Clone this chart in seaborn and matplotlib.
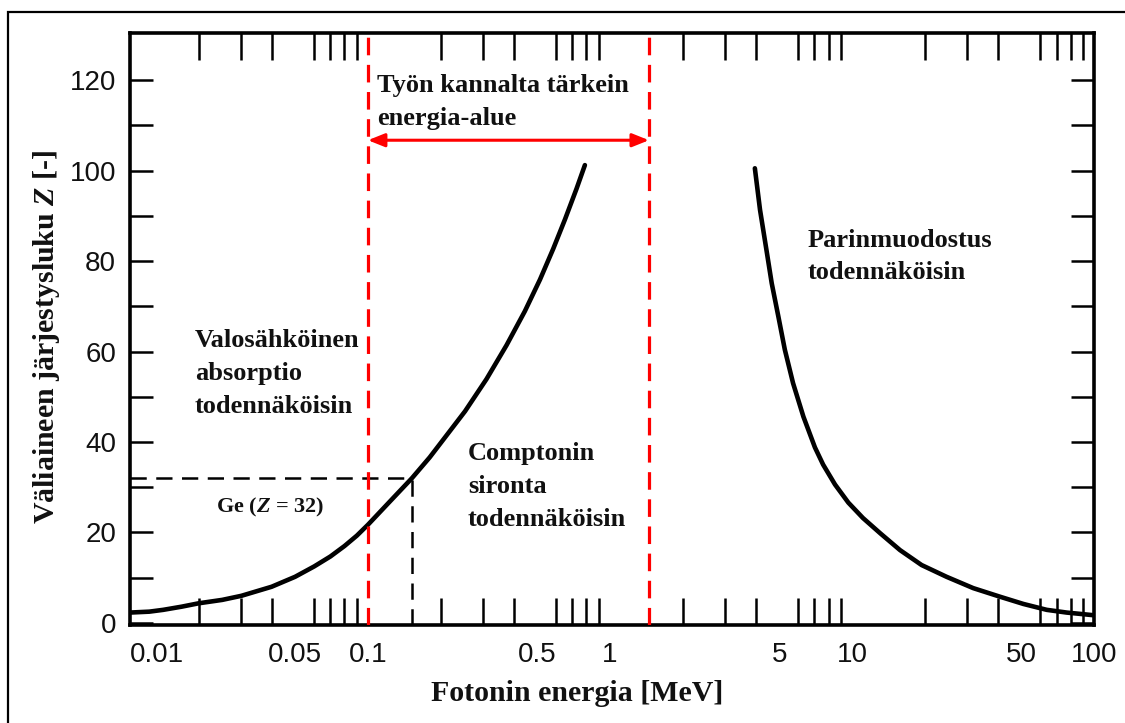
import matplotlib
matplotlib.use("Agg")
import matplotlib.pyplot as plt
import seaborn as sns
import pandas as pd
from matplotlib.patches import Rectangle, ArrowStyle
from matplotlib.ticker import FixedLocator, FixedFormatter, NullFormatter

# ---------------- data ----------------
# Boundary photoelectric absorption / Compton scattering
pe_energy = [0.0104, 0.0125, 0.01426, 0.017, 0.02, 0.025, 0.03, 0.04, 0.05, 0.06,
             0.07, 0.08, 0.09, 0.1, 0.123, 0.152, 0.18, 0.252, 0.309, 0.374,
             0.445, 0.514, 0.583, 0.652, 0.728, 0.788]
pe_z = [2.3, 2.5, 2.9, 3.6, 4.35, 5.1, 6.0, 8.0, 10.2, 12.5,
        14.7, 17.0, 19.3, 21.7, 26.8, 32.0, 36.6, 46.8, 53.9, 61.4,
        68.9, 75.9, 82.7, 89.2, 96.0, 101.2]

# Boundary Compton scattering / pair production
pp_energy = [3.97, 4.17, 4.44, 4.66, 4.97, 5.28, 5.71, 6.30, 7.03, 7.60, 8.51, 9.66,
             11.1, 13.1, 15.8, 19.4, 24.6, 31.7, 40.9, 51.1, 63.8, 77.1, 91.8, 100.0]
pp_z = [100.5, 91.3, 82.2, 75.1, 67.6, 60.4, 53.0, 45.6, 38.8, 35.0, 30.6, 26.6,
        23.2, 19.8, 16.1, 12.8, 10.2, 7.7, 5.8, 4.2, 2.9, 2.3, 1.9, 1.7]

# Important energy range and germanium marker
range_limits = [0.1, 1.45]
ge_energy = 0.152
ge_z = 32

x_tick_values = [0.0104, 0.05, 0.1, 0.5, 1, 5, 10, 50, 100]
x_tick_labels = ["0.01", "0.05", "0.1", "0.5", "1", "5", "10", "50", "100"]
y_tick_values = [0, 20, 40, 60, 80, 100, 120]
y_minor_values = [10, 30, 50, 70, 90, 110]

# ---------------- style ----------------
sns.set_theme(style="ticks")
plt.rcParams["font.family"] = ["Liberation Sans", "DejaVu Sans"]
plt.rcParams["mathtext.fontset"] = "custom"
plt.rcParams["mathtext.it"] = "Liberation Serif:bold:italic"
plt.rcParams["mathtext.rm"] = "Liberation Serif:bold"
plt.rcParams["mathtext.bf"] = "Liberation Serif:bold"

SERIF = dict(family="Liberation Serif", weight="bold", color="#111111")

fig = plt.figure(figsize=(11.25, 7.23), dpi=100)
ax = fig.add_axes([130 / 1125, 1 - 625 / 723, (1094 - 130) / 1125, (625 - 33) / 723])

pe_df = pd.DataFrame({"E": pe_energy, "Z": pe_z})
pp_df = pd.DataFrame({"E": pp_energy, "Z": pp_z})
sns.lineplot(data=pe_df, x="E", y="Z", ax=ax, color="black", lw=3.3,
             estimator=None, sort=False, solid_capstyle="round", solid_joinstyle="round")
sns.lineplot(data=pp_df, x="E", y="Z", ax=ax, color="black", lw=3.3,
             estimator=None, sort=False, solid_capstyle="round", solid_joinstyle="round")

ax.set_xscale("log")
ax.set_xlim(0.0104, 100)
ax.set_ylim(-0.45, 130.4)

# red dashed limits of the important range
for xv in range_limits:
    ax.axvline(xv, color="#ff0000", lw=2.3, ls=(0, (5.5, 3.0)), zorder=3)

# double arrow
ax.annotate("", xy=(range_limits[0], 106.7), xytext=(range_limits[1], 106.7),
            arrowprops=dict(arrowstyle=ArrowStyle("<|-|>", head_length=0.5, head_width=0.2),
                            color="#ff0000", lw=2.2, mutation_scale=20,
                            shrinkA=0, shrinkB=0), zorder=4)

# Ge marker (black dashed)
ax.plot([ax.get_xlim()[0], ge_energy], [ge_z, ge_z], color="black", lw=1.8,
        ls=(0, (6.5, 3.8)), zorder=2)
ax.plot([ge_energy, ge_energy], [ax.get_ylim()[0], ge_z], color="black", lw=1.8,
        ls=(0, (6.5, 3.8)), zorder=2)

# ticks
ax.xaxis.set_major_locator(FixedLocator(x_tick_values))
ax.xaxis.set_major_formatter(FixedFormatter(x_tick_labels))
minor_x = [m * 10.0 ** k for k in range(-2, 2) for m in range(1, 10)] + [100.0]
minor_x = [v for v in minor_x if v > 0.0105]
ax.xaxis.set_minor_locator(FixedLocator(minor_x))
ax.xaxis.set_minor_formatter(NullFormatter())
ax.tick_params(axis="x", which="major", length=0, pad=12, labelsize=20,
               bottom=True, top=True, labeltop=False)
ax.tick_params(axis="x", which="minor", length=19.5, width=1.8, direction="in",
               bottom=True, top=True, color="black")
for lab in ax.get_xticklabels():
    lab.set_color("#111111")
ax.get_xticklabels()[0].set_horizontalalignment("left")

ax.yaxis.set_major_locator(FixedLocator(y_tick_values))
ax.yaxis.set_minor_locator(FixedLocator(y_minor_values))
ax.tick_params(axis="y", which="both", length=16.5, width=1.8, direction="in",
               left=True, right=True, color="black")
ax.tick_params(axis="y", which="major", labelsize=20, pad=10, labelcolor="#111111")

for sp in ax.spines.values():
    sp.set_visible(True)
    sp.set_linewidth(2.6)
    sp.set_color("black")

# axis labels
ax.set_xlabel("Fotonin energia [MeV]", fontsize=21.5, va="center", **SERIF)
ax.xaxis.set_label_coords(0.464, -0.115)
ax.set_ylabel("Väliaineen järjestysluku $Z$ [-]", fontsize=21.5, va="center", **SERIF)
ax.yaxis.set_label_coords(-0.087, 0.486)

# annotations
LS = 1.55
ax.text(0.109, 115.2, "Työn kannalta tärkein\nenergia-alue", fontsize=19,
        ha="left", va="center", linespacing=LS, **SERIF)
ax.text(0.0193, 55.2, "Valosähköinen\nabsorptio\ntodennäköisin", fontsize=19,
        ha="left", va="center", linespacing=LS, **SERIF)
ax.text(0.0394, 25.6, "Ge ($Z$ = 32)", fontsize=16, ha="center", va="center", **SERIF)
ax.text(0.259, 30.2, "Comptonin\nsironta\ntodennäköisin", fontsize=19,
        ha="left", va="center", linespacing=LS, **SERIF)
ax.text(6.58, 81.0, "Parinmuodostus\ntodennäköisin", fontsize=19,
        ha="left", va="center", linespacing=LS, **SERIF)

# outer frame of the picture
fig.add_artist(Rectangle((8 / 1125, -0.5), 2.0, (1 - 12 / 723) + 0.5,
                         transform=fig.transFigure, fill=False, lw=1.6,
                         ec="black", clip_on=False))

fig.savefig("out.png", dpi=100)
